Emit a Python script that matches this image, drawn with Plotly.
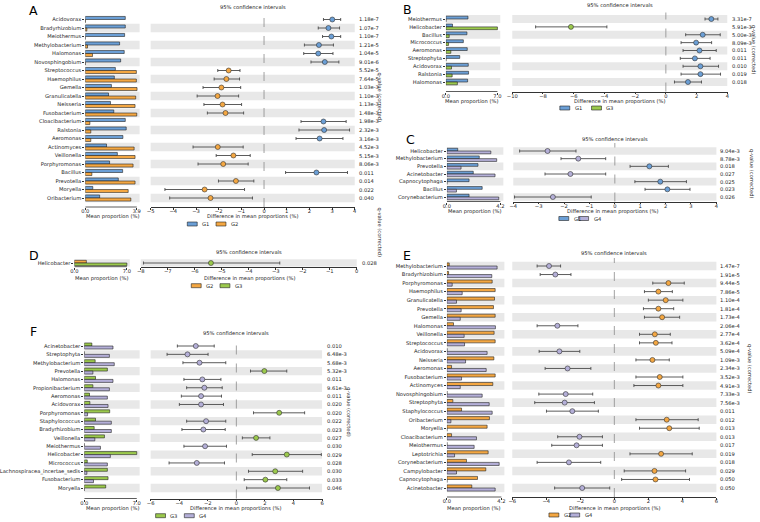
import plotly.graph_objects as go

W, H = 760, 522

# ---------------- Panel A : G1 vs G2 ----------------
a_taxa = ["Acidovorax", "Bradyrhizobium", "Meiothermus", "Methylobacterium", "Halomonas",
          "Novosphingobium", "Streptococcus", "Haemophilus", "Gemella", "Granulicatella",
          "Neisseria", "Fusobacterium", "Cloacibacterium", "Ralstonia", "Aeromonas",
          "Actinomyces", "Veillonella", "Porphyromonas", "Bacillus", "Prevotella",
          "Moryella", "Oribacterium"]
a_g1 = [3.03, 3.03, 2.98, 2.60, 2.95, 2.68, 2.28, 2.20, 1.98, 1.76, 1.91, 2.16,
        3.03, 3.10, 2.85, 1.61, 2.43, 1.84, 2.83, 2.50, 0.57, 1.09]
a_g2 = [0.02, 0.12, 0.00, 0.17, 0.55, 0.01, 3.87, 3.87, 3.92, 3.82, 3.77, 3.90,
        0.35, 0.42, 0.42, 3.70, 3.77, 3.62, 0.50, 3.77, 3.25, 3.45]
a_diff = [3.01, 2.84, 2.97, 2.42, 2.39, 2.68, -1.56, -1.66, -1.88, -2.05, -1.83, -1.70,
          2.62, 2.65, 2.45, -2.04, -1.35, -1.80, 2.31, -1.24, -2.62, -2.36]
a_lo = [2.62, 2.39, 2.58, 1.78, 1.75, 2.07, -2.04, -2.20, -2.69, -2.95, -2.65, -2.50,
        1.63, 1.54, 1.41, -3.13, -2.11, -2.91, 0.95, -2.01, -4.37, -4.16]
a_hi = [3.38, 3.33, 3.38, 3.06, 3.04, 3.30, -1.06, -1.08, -1.03, -1.12, -0.99, -0.90,
        3.62, 3.77, 3.48, -0.92, -0.61, -0.70, 3.68, -0.45, -0.86, -0.51]
a_q = ["1.18e-7", "1.07e-7", "1.10e-7", "1.21e-5", "1.04e-5", "9.01e-6", "5.52e-5", "7.64e-5",
       "1.03e-3", "1.10e-3", "1.13e-3", "1.48e-3", "1.98e-3", "2.32e-3", "3.16e-3", "4.52e-3",
       "5.15e-3", "8.06e-3", "0.011", "0.014", "0.022", "0.040"]

# ---------------- Panel B : G1 vs G3 ----------------
b_taxa = ["Meiothermus", "Helicobacter", "Bacillus", "Micrococcus", "Aeromonas",
          "Streptophyta", "Acidovorax", "Ralstonia", "Halomonas"]
b_g1 = [3.00, 0.90, 2.86, 2.37, 2.90, 1.88, 3.04, 3.08, 2.95]
b_g3 = [0.00, 7.00, 0.45, 0.36, 0.67, 0.00, 0.76, 0.85, 1.56]
b_diff = [2.96, -6.18, 2.40, 1.97, 2.19, 1.89, 2.25, 2.25, 1.44]
b_lo = [2.55, -8.48, 1.29, 0.99, 1.12, 0.94, 1.12, 0.99, 0.56]
b_hi = [3.39, -3.84, 3.54, 2.98, 3.28, 2.88, 3.43, 3.56, 2.32]
b_q = ["3.31e-7", "5.91e-3", "5.00e-3", "8.09e-3", "0.011", "0.011", "0.010", "0.019", "0.018"]

# ---------------- Panel C : G1 vs G4 ----------------
c_taxa = ["Helicobacter", "Methylobacterium", "Prevotella", "Acinetobacter",
          "Capnocytophaga", "Bacillus", "Corynebacterium"]
c_g1 = [0.85, 2.54, 2.44, 2.07, 1.74, 2.77, 1.74]
c_g4 = [3.45, 3.91, 1.11, 3.78, 0.00, 0.75, 4.07]
c_diff = [-2.65, -1.44, 1.36, -1.75, 1.79, 2.07, -2.44]
c_lo = [-3.75, -2.12, 0.60, -2.75, 0.79, 1.19, -3.95]
c_hi = [-1.53, -0.36, 2.11, -0.36, 2.82, 2.96, -0.93]
c_q = ["9.04e-3", "8.78e-3", "0.018", "0.027", "0.025", "0.023", "0.026"]

# ---------------- Panel D : G2 vs G3 ----------------
d_taxa = ["Helicobacter"]
d_g2 = [1.60]
d_g3 = [7.00]
d_diff = [-5.40]
d_lo = [-7.90]
d_hi = [-2.85]
d_q = ["0.028"]

# ---------------- Panel E : G2 vs G4 ----------------
e_taxa = ["Methylobacterium", "Bradyrhizobium", "Porphyromonas", "Haemophilus", "Granulicatella",
          "Prevotella", "Gemella", "Halomonas", "Veillonella", "Streptococcus", "Acidovorax",
          "Neisseria", "Aeromonas", "Fusobacterium", "Actinomyces", "Novosphingobium",
          "Streptophyta", "Staphylococcus", "Oribacterium", "Moryella", "Cloacibacterium",
          "Meiothermus", "Leptotrichia", "Corynebacterium", "Campylobacter", "Capnocytophaga",
          "Acinetobacter"]
e_g2 = [0.18, 0.13, 3.49, 3.72, 3.67, 3.59, 3.72, 0.51, 3.64, 3.72, 0.00, 3.62, 0.36, 3.72,
        3.54, 0.00, 0.46, 1.13, 3.28, 3.10, 0.36, 0.00, 3.18, 1.51, 3.00, 2.36, 1.92]
e_g4 = [3.87, 3.46, 0.41, 1.18, 0.74, 1.10, 1.03, 3.74, 1.33, 1.36, 3.10, 1.44, 3.03, 1.13,
        1.03, 2.72, 3.26, 3.49, 0.31, 0.00, 2.28, 2.10, 0.59, 4.03, 0.74, 0.00, 3.72]
e_diff = [-3.84, -3.47, 3.18, 2.59, 3.02, 2.59, 2.81, -3.35, 2.38, 2.44, -3.23, 2.24, -2.75,
          2.67, 2.59, -2.86, -2.92, -2.47, 3.08, 3.23, -2.05, -2.22, 2.75, -2.67, 2.36, 2.42,
          -1.89]
e_lo = [-4.54, -4.36, 2.26, 1.77, 2.00, 1.71, 1.77, -4.54, 1.48, 1.48, -4.42, 1.27, -4.07,
        1.27, 1.15, -4.44, -4.68, -3.99, 1.27, 1.48, -3.33, -3.68, 0.92, -4.54, 0.58, 0.43,
        -3.51]
e_hi = [-3.16, -2.55, 4.11, 3.41, 4.03, 3.49, 3.84, -2.14, 3.29, 3.39, -2.03, 3.23, -1.38,
        4.03, 4.03, -1.27, -1.17, -0.94, 4.93, 4.99, -0.70, -0.70, 4.58, -0.80, 4.19, 4.42,
        -0.27]
e_q = ["1.47e-7", "1.91e-5", "9.44e-5", "7.86e-5", "1.10e-4", "1.81e-4", "1.73e-4", "2.06e-4",
       "2.77e-4", "3.62e-4", "5.09e-4", "1.09e-3", "2.34e-3", "3.52e-3", "4.91e-3", "7.33e-3",
       "7.56e-3", "0.011", "0.012", "0.013", "0.013", "0.017", "0.019", "0.018", "0.029",
       "0.050", "0.050"]

# ---------------- Panel F : G3 vs G4 ----------------
f_taxa = ["Acinetobacter", "Streptophyta", "Methylobacterium", "Prevotella", "Halomonas",
          "Propionibacterium", "Aeromonas", "Acidovorax", "Porphyromonas", "Staphylococcus",
          "Bradyrhizobium", "Veillonella", "Meiothermus", "Helicobacter", "Micrococcus",
          "Lachnospiracea_incertae_sedis", "Fusobacterium", "Moryella"]
f_g3 = [1.01, 0.00, 1.45, 3.08, 1.50, 1.15, 0.70, 0.75, 3.39, 1.50, 1.32, 2.69, 0.00, 7.00,
        0.40, 3.08, 3.17, 2.86]
f_g4 = [3.83, 3.35, 4.00, 1.15, 3.83, 3.35, 3.08, 3.17, 0.44, 3.61, 3.61, 1.41, 2.16, 3.48,
        3.08, 0.35, 1.23, 0.00]
f_diff = [-2.84, -3.42, -2.58, 1.96, -2.38, -2.24, -2.47, -2.47, 3.00, -2.12, -2.31, 1.38,
          -2.19, 3.53, -2.77, 2.72, 2.03, 2.91]
f_lo = [-4.13, -4.85, -3.74, 0.99, -3.67, -3.48, -3.85, -3.99, 1.20, -3.48, -3.81, 0.42,
        -3.67, 1.11, -4.71, 0.85, 0.55, 0.72]
f_hi = [-1.55, -1.98, -0.74, 3.53, -1.08, -0.99, -1.04, -0.90, 4.78, -0.74, -0.78, 2.35,
        -0.69, 5.95, -0.83, 4.64, 3.53, 5.12]
f_q = ["0.010", "6.48e-3", "5.68e-3", "5.32e-3", "0.011", "9.61e-3", "0.011", "0.020", "0.020",
       "0.022", "0.023", "0.027", "0.030", "0.029", "0.028", "0.030", "0.033", "0.046"]

# ---------------- styles ----------------
COL = {"G1": "#6b9fd6", "G2": "#f4a742", "G3": "#9bc94c", "G4": "#b4afd8"}
BAND = "#e8e8e8"
TXT = "#262626"
FONT = "DejaVu Sans"
FS = 5.2


def mk_ticks(lo, hi, step):
    vals = list(range(lo, hi + 1, step))
    return vals, [("\u2212" + str(-v)) if v < 0 else str(v) for v in vals]


panels = [
    dict(letter="A", groups=("G1", "G2"), taxa=a_taxa, m1=a_g1, m2=a_g2, d=a_diff, lo=a_lo, hi=a_hi, q=a_q,
         barmax=3.9, ci=(-5, 4, 1)),
    dict(letter="B", groups=("G1", "G3"), taxa=b_taxa, m1=b_g1, m2=b_g3, d=b_diff, lo=b_lo, hi=b_hi, q=b_q,
         barmax=7.0, ci=(-10, 4, 2)),
    dict(letter="C", groups=("G1", "G4"), taxa=c_taxa, m1=c_g1, m2=c_g4, d=c_diff, lo=c_lo, hi=c_hi, q=c_q,
         barmax=4.2, ci=(-4, 4, 1)),
    dict(letter="D", groups=("G2", "G3"), taxa=d_taxa, m1=d_g2, m2=d_g3, d=d_diff, lo=d_lo, hi=d_hi, q=d_q,
         barmax=7.0, ci=(-8, 0, 1)),
    dict(letter="E", groups=("G2", "G4"), taxa=e_taxa, m1=e_g2, m2=e_g4, d=e_diff, lo=e_lo, hi=e_hi, q=e_q,
         barmax=4.2, ci=(-6, 6, 2)),
    dict(letter="F", groups=("G3", "G4"), taxa=f_taxa, m1=f_g3, m2=f_g4, d=f_diff, lo=f_lo, hi=f_hi, q=f_q,
         barmax=7.0, ci=(-6, 6, 2)),
]

# geometry in pixels (layout only)
geo = [
    dict(bar0=81, barend=133, cil=147, cih=353, first=19.5, last=198, top=12, bottom=207, qx=355,
         letter=(29, 10.5), title_y=7, xt_y=216.5, mean_x=108, diff_x=250, leg_y=224, leg_x=(184, 213),
         ql=(378, 97)),
    dict(bar0=445, barend=497, cil=512, cih=729, first=19, last=82, top=12.5, bottom=91.5, qx=732,
         letter=(406, 9.5), title_y=5.5, xt_y=101.5, mean_x=471, diff_x=620, leg_y=108, leg_x=(560, 592),
         ql=(756, 50)),
    dict(bar0=446, barend=500, cil=513, cih=718, first=151, last=197, top=143, bottom=201.5, qx=720,
         letter=(409, 139), title_y=139, xt_y=211.5, mean_x=474, diff_x=613, leg_y=218.5, leg_x=(559, 579),
         ql=(753, 174)),
    dict(bar0=70, barend=123, cil=137, cih=355, first=263, last=263, top=259, bottom=266.7, qx=358,
         letter=(29, 255.5), title_y=252, xt_y=278, mean_x=97, diff_x=247, leg_y=285.7, leg_x=(188, 217),
         ql=(378, 232), s=7.5),
    dict(bar0=446, barend=501, cil=512, cih=718, first=266, last=488, top=258, bottom=497, qx=720,
         letter=(406, 255.5), title_y=253, xt_y=508, mean_x=473, diff_x=615, leg_y=515, leg_x=(549, 570),
         ql=(752, 369)),
    dict(bar0=80, barend=133, cil=147, cih=320, first=346, last=488, top=338, bottom=498.5, qx=323,
         letter=(28.5, 331), title_y=333, xt_y=508.5, mean_x=108, diff_x=233, leg_y=515.7, leg_x=(152, 181),
         ql=(347, 412)),
]


def PX(p):
    return p / W


def PY(p):
    return 1 - p / H


fig = go.Figure()
shapes, annos, lay = [], [], {}
EXT = 1.055


def txt(x, y, s, size=FS, xanchor="center", angle=0, color=TXT):
    annos.append(dict(x=PX(x), y=PY(y), xref="paper", yref="paper", text=s, showarrow=False,
                      xanchor=xanchor, yanchor="middle", textangle=angle,
                      font=dict(size=size, color=color, family=FONT)))


for k, (P, G) in enumerate(zip(panels, geo)):
    bx, cx = 2 * k + 1, 2 * k + 2
    bxs = "" if bx == 1 else str(bx)
    n = len(P["taxa"])
    s = G.get("s") if n == 1 else (G["last"] - G["first"]) / (n - 1)

    def v(p):
        return (n - 1) - (p - G["first"]) / s

    yr = [v(G["bottom"]), v(G["top"])]
    ydom = [PY(G["bottom"]), PY(G["top"])]
    pos = [n - 1 - i for i in range(n)]
    c1, c2 = COL[P["groups"][0]], COL[P["groups"][1]]
    bmax = P["barmax"]
    bdom = [PX(G["bar0"]), PX(G["bar0"] + (G["barend"] - G["bar0"]) * EXT)]
    cdom = [PX(G["cil"]), PX(G["cih"])]
    lo, hi, st = P["ci"]
    tv, tt = mk_ticks(lo, hi, st)

    # bands
    for p in pos:
        if p % 2 == 0:
            for ax in (bx, cx):
                axs = "" if ax == 1 else str(ax)
                shapes.append(dict(type="rect", xref=f"x{axs} domain", yref=f"y{axs}", x0=0, x1=1,
                                   y0=p - 0.5, y1=p + 0.5, fillcolor=BAND, line=dict(width=0), layer="below"))
    # zero line
    if hi > 0:
        shapes.append(dict(type="line", xref=f"x{cx}", yref=f"y{cx} domain", x0=0, x1=0, y0=0, y1=1,
                           line=dict(color="#8a8a8a", width=0.8, dash="dash"), layer="below"))
    # bar bottom spine
    shapes.append(dict(type="line", xref=f"x{bxs}", yref=f"y{bxs} domain", x0=0, x1=bmax, y0=0, y1=0,
                       line=dict(color="#333", width=0.8)))

    fig.add_trace(go.Bar(x=P["m1"], y=[p + 0.18 for p in pos], orientation="h", width=0.36,
                         marker=dict(color=c1, line=dict(color="#222", width=0.6)),
                         xaxis=f"x{bxs}", yaxis=f"y{bxs}", showlegend=False, hoverinfo="x"))
    fig.add_trace(go.Bar(x=P["m2"], y=[p - 0.18 for p in pos], orientation="h", width=0.36,
                         marker=dict(color=c2, line=dict(color="#222", width=0.6)),
                         xaxis=f"x{bxs}", yaxis=f"y{bxs}", showlegend=False, hoverinfo="x"))
    fig.add_trace(go.Scatter(
        x=P["d"], y=pos, mode="markers",
        marker=dict(size=5, color=[c1 if d > 0 else c2 for d in P["d"]], line=dict(color="#333", width=0.6)),
        error_x=dict(type="data", symmetric=False,
                     array=[h - d for h, d in zip(P["hi"], P["d"])],
                     arrayminus=[d - l for l, d in zip(P["lo"], P["d"])],
                     color="#4a4a4a", thickness=0.9, width=1.5),
        xaxis=f"x{cx}", yaxis=f"y{cx}", showlegend=False))

    lay[f"xaxis{bxs}"] = dict(domain=bdom, range=[0, bmax * EXT], anchor=f"y{bxs}", tickvals=[0, bmax],
                              ticktext=["0.0", f"{bmax:.1f}"], ticks="outside", ticklen=2, tickwidth=0.6,
                              tickcolor="#333", tickfont=dict(size=FS, color=TXT), showgrid=False,
                              zeroline=False, showline=False, fixedrange=True, ticklabelstandoff=-3)
    lay[f"yaxis{bxs}"] = dict(domain=ydom, range=yr, anchor=f"x{bxs}", tickvals=pos, ticktext=P["taxa"],
                              ticks="outside", ticklen=2, tickwidth=0.6, tickcolor="#333",
                              tickfont=dict(size=FS, color=TXT), showgrid=False, zeroline=False,
                              showline=False, fixedrange=True)
    lay[f"xaxis{cx}"] = dict(domain=cdom, range=[lo, hi], anchor=f"y{cx}", tickvals=tv, ticktext=tt,
                             ticks="outside", ticklen=2, tickwidth=0.6, tickcolor="#333",
                             tickfont=dict(size=FS, color=TXT), showgrid=False, zeroline=False,
                             showline=True, linecolor="#333", linewidth=0.8, fixedrange=True,
                             ticklabelstandoff=-3)
    lay[f"yaxis{cx}"] = dict(domain=ydom, range=yr, anchor=f"x{cx}", showticklabels=False, ticks="",
                             showgrid=False, zeroline=False, showline=False, fixedrange=True)

    # q-values
    for p, qv in zip(pos, P["q"]):
        annos.append(dict(x=PX(G["qx"]), y=p, xref="paper", yref=f"y{cx}", text=qv, showarrow=False,
                          xanchor="left", yanchor="middle", font=dict(size=FS, color=TXT, family=FONT)))

    # texts
    txt(G["letter"][0], G["letter"][1], P["letter"], size=12.5, xanchor="center", color="#000")
    cmid = (G["cil"] + G["cih"]) / 2
    txt(cmid, G["title_y"], "95% confidence intervals")
    txt(G["mean_x"], G["xt_y"], "Mean proportion (%)")
    txt(G["diff_x"], G["xt_y"], "Difference in mean proportions (%)")
    txt(G["ql"][0], G["ql"][1], "q-value (corrected)", angle=90)

    # legend
    for gx, gname in zip(G["leg_x"], P["groups"]):
        shapes.append(dict(type="rect", xref="paper", yref="paper", x0=PX(gx), x1=PX(gx + 10),
                           y0=PY(G["leg_y"] + 2), y1=PY(G["leg_y"] - 2), fillcolor=COL[gname],
                           line=dict(color="#222", width=0.6)))
        txt(gx + 13, G["leg_y"], gname, xanchor="left")

fig.update_layout(width=W, height=H, margin=dict(l=0, r=0, t=0, b=0), plot_bgcolor="white",
                  paper_bgcolor="white", barmode="overlay", shapes=shapes, annotations=annos,
                  font=dict(family=FONT, size=FS, color=TXT), showlegend=False, **lay)

fig.write_html("out.html", config={"displayModeBar": False},
               post_script="document.body.style.margin='0px';")
